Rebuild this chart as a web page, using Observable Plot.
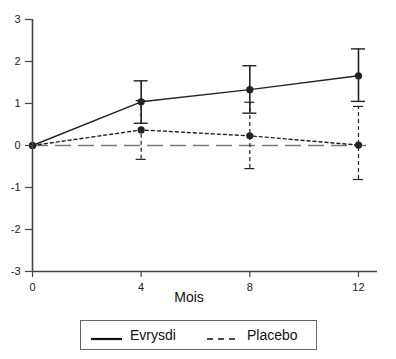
<!DOCTYPE html>
<html><head><meta charset="utf-8">
<script src="https://cdn.jsdelivr.net/npm/d3@7"></script>
<script src="https://cdn.jsdelivr.net/npm/@observablehq/plot@0.6"></script>
<style>
body{margin:0;background:#fff;font-family:"Liberation Sans",Arial,sans-serif;}
#legend{position:absolute;left:80px;top:320px;width:235px;height:28px;border:1px solid #666;font-size:14px;color:#111;}
#legend svg{position:absolute;top:16px;}
#legend span{position:absolute;top:6px;line-height:16px;}
</style></head><body>
<div id="chart"></div>
<div id="legend">
  <svg style="left:10px" width="32" height="4"><line x1="0" y1="2" x2="31" y2="2" stroke="#111" stroke-width="2.2"/></svg><span style="left:49px">Evrysdi</span>
  <svg style="left:126px" width="30" height="4"><line x1="0" y1="2" x2="29" y2="2" stroke="#111" stroke-width="1.5" stroke-dasharray="6,5"/></svg><span style="left:166px">Placebo</span>
</div>
<script>
const months = [0, 4, 8, 12];
const evrysdiMean = [0, 1.04, 1.33, 1.66];
const evrysdiLow  = [0, 0.53, 0.77, 1.05];
const evrysdiHigh = [0, 1.54, 1.90, 2.30];
const placeboMean = [0, 0.37, 0.23, 0.01];
const placeboLow  = [0, -0.33, -0.55, -0.81];
const placeboHigh = [0, 1.07, 1.03, 0.93];
const yTicks = [-3, -2, -1, 0, 1, 2, 3];
const xTicks = [0, 4, 8, 12];
const xLabel = "Mois";

const ev = months.map((m, i) => ({month: m, mean: evrysdiMean[i], lo: evrysdiLow[i], hi: evrysdiHigh[i]}));
const pl = months.map((m, i) => ({month: m, mean: placeboMean[i], lo: placeboLow[i], hi: placeboHigh[i]}));
const evBars = ev.filter(d => d.month > 0);
const plBars = pl.filter(d => d.month > 0);
const ink = "#222";

const chart = Plot.plot({
  width: 396, height: 312,
  marginLeft: 32, marginRight: 19, marginTop: 19, marginBottom: 41,
  style: {fontFamily: "Liberation Sans, Arial, sans-serif", fontSize: "11px", color: "#222"},
  x: {domain: [0, 12.7]},
  y: {domain: [-3, 3]},
  marks: [
    Plot.ruleY([0], {x1: 0, x2: 12.3, stroke: "#777", strokeWidth: 1.3, strokeDasharray: "16,7"}),
    // placebo error bars
    Plot.ruleX(plBars, {x: "month", y1: "lo", y2: "hi", stroke: ink, strokeWidth: 1.2, strokeDasharray: "4,3"}),
    Plot.ruleY(plBars, {y: "lo", x1: "month", x2: "month", insetLeft: -5, insetRight: -5, stroke: ink, strokeWidth: 1.2}),
    Plot.ruleY(plBars, {y: "hi", x1: "month", x2: "month", insetLeft: -5, insetRight: -5, stroke: ink, strokeWidth: 1.2}),
    // evrysdi error bars
    Plot.ruleX(evBars, {x: "month", y1: "lo", y2: "hi", stroke: ink, strokeWidth: 1.6}),
    Plot.ruleY(evBars, {y: "lo", x1: "month", x2: "month", insetLeft: -7, insetRight: -7, stroke: ink, strokeWidth: 1.4}),
    Plot.ruleY(evBars, {y: "hi", x1: "month", x2: "month", insetLeft: -7, insetRight: -7, stroke: ink, strokeWidth: 1.4}),
    Plot.line(pl, {x: "month", y: "mean", stroke: ink, strokeWidth: 1.4, strokeDasharray: "3,3"}),
    Plot.line(ev, {x: "month", y: "mean", stroke: ink, strokeWidth: 1.4}),
    Plot.dot(pl, {x: "month", y: "mean", r: 3.6, fill: ink, stroke: "none"}),
    Plot.dot(ev, {x: "month", y: "mean", r: 3.6, fill: ink, stroke: "none"}),
    Plot.axisY({ticks: yTicks, tickSize: 7, tickPadding: 5, label: null, tickFormat: d => d < 0 ? "-" + Math.abs(d) : String(d), stroke: "#444", strokeWidth: 1.2}),
    Plot.axisX({ticks: xTicks, tickSize: 6, tickPadding: 6, label: null, stroke: "#444", strokeWidth: 1.2}),
    Plot.ruleX([0], {stroke: "#444", strokeWidth: 1.6}),
    Plot.ruleY([-3], {stroke: "#444", strokeWidth: 1.6}),
    Plot.text([xLabel], {frameAnchor: "bottom", dx: -16, dy: 30, fontSize: 14, fill: "#111"})
  ]
});
document.getElementById("chart").appendChild(chart);
</script>
</body></html>
